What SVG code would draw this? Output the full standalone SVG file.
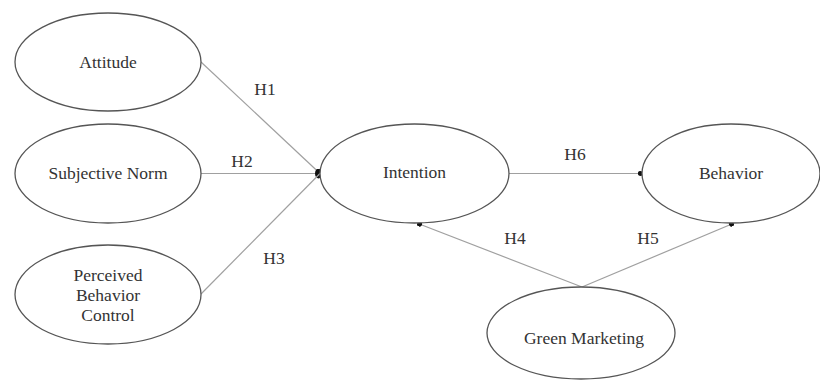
<svg xmlns="http://www.w3.org/2000/svg" width="820" height="381" viewBox="0 0 820 381">
<defs>
<style>
.node ellipse{fill:#fff;stroke:#555;stroke-width:1.3}
text{font-family:'Liberation Serif','Times New Roman',serif;font-size:17.5px;fill:#333;text-anchor:middle}
.edge{stroke:#a0a0a0;stroke-width:1.2;fill:none}
</style>
<marker id="dot" viewBox="0 0 6 6" refX="5" refY="3" markerWidth="5" markerHeight="5" markerUnits="userSpaceOnUse" orient="auto">
<circle cx="3" cy="3" r="3" fill="#111"/>
</marker>
<marker id="dotBig" viewBox="0 0 7 10" refX="5" refY="5" markerWidth="7" markerHeight="10" markerUnits="userSpaceOnUse" orient="0">
<ellipse cx="3.5" cy="5" rx="3.5" ry="5" fill="#111"/>
</marker>
</defs>
<rect width="820" height="381" fill="#fff"/>
<g id="connectors">
<line class="edge" x1="201" y1="62" x2="320" y2="173.5"/>
<line class="edge" x1="201" y1="173.5" x2="320" y2="173.5" marker-end="url(#dotBig)"/>
<line class="edge" x1="201" y1="294" x2="320" y2="173.5"/>
<line class="edge" x1="509" y1="173.5" x2="642" y2="173.5" marker-end="url(#dot)"/>
<line class="edge" x1="582" y1="287" x2="418" y2="223.5" marker-end="url(#dot)"/>
<line class="edge" x1="582" y1="287" x2="733" y2="223.5" marker-end="url(#dot)"/>
<text x="265" y="95">H1</text>
<text x="242" y="167">H2</text>
<text x="274" y="264">H3</text>
<text x="515" y="244">H4</text>
<text x="648" y="244">H5</text>
<text x="575" y="160">H6</text>
</g>
<g id="attitude" class="node">
<ellipse cx="108" cy="62" rx="93" ry="49"/>
<text x="108" y="68">Attitude</text>
</g>
<g id="subjective-norm" class="node">
<ellipse cx="108" cy="173.5" rx="93" ry="49.5"/>
<text x="108" y="179">Subjective Norm</text>
</g>
<g id="perceived-behavior-control" class="node">
<ellipse cx="108" cy="294.5" rx="93" ry="49.5"/>
<text x="108" y="281">Perceived</text>
<text x="108" y="301">Behavior</text>
<text x="108" y="321">Control</text>
</g>
<g id="intention" class="node">
<ellipse cx="414.5" cy="173.5" rx="94.5" ry="49.5"/>
<text x="414.5" y="178">Intention</text>
</g>
<g id="behavior" class="node">
<ellipse cx="731" cy="173.5" rx="89" ry="49.5"/>
<text x="731" y="179">Behavior</text>
</g>
<g id="green-marketing" class="node">
<ellipse cx="581" cy="333" rx="94" ry="46"/>
<text x="584" y="344">Green Marketing</text>
</g>
</svg>
